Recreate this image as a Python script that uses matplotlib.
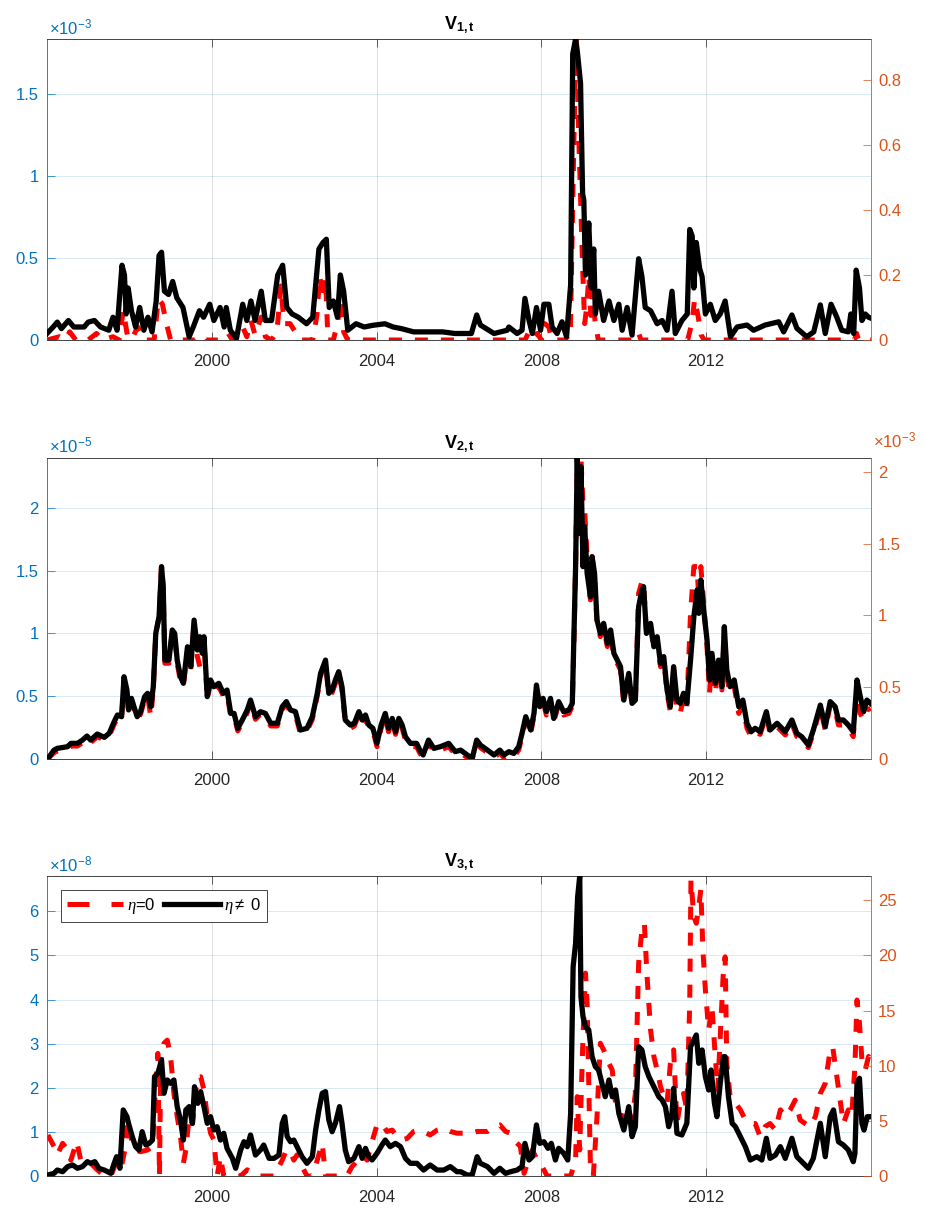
import matplotlib.pyplot as plt
import numpy as np
from matplotlib.lines import Line2D
from matplotlib.ticker import FuncFormatter

plt.rcParams['font.family'] = ['Liberation Sans', 'DejaVu Sans']
plt.rcParams['mathtext.fontset'] = 'custom'
plt.rcParams['mathtext.rm'] = 'Liberation Sans'
plt.rcParams['mathtext.it'] = 'Liberation Serif:italic'
plt.rcParams['mathtext.bf'] = 'Liberation Sans:bold'

BLUE = (0.0, 0.447, 0.741)
ORANGE = (0.85, 0.325, 0.098)
DARK = (0.15, 0.15, 0.15)

year_ticks = [2000, 2004, 2008, 2012]

# (decimal year, value) pairs
# red dashed = eta=0 (left axis), black = eta!=0 (right axis)

# V1: red in units of 1e-3, black in units of 1
v1_red = [(1996.0, 0.0), (1996.3, 0.02), (1996.45, 0.0), (1996.55, 0.05), (1996.7, 0.0), (1997.0, 0.0),
          (1997.2, 0.04), (1997.35, 0.0), (1997.6, 0.02), (1997.75, 0.0), (1997.85, 0.18), (1997.95, 0.03),
          (1998.05, 0.0), (1998.2, 0.08), (1998.35, 0.0), (1998.6, 0.0), (1998.7, 0.25), (1998.8, 0.22),
          (1998.9, 0.1), (1999.0, 0.0), (1999.6, 0.0), (1999.75, 0.03), (1999.85, 0.0), (2000.2, 0.0),
          (2000.4, 0.04), (2000.5, 0.0), (2000.75, 0.08), (2000.85, 0.02), (2000.95, 0.12), (2001.05, 0.03),
          (2001.2, 0.14), (2001.3, 0.02), (2001.45, 0.0), (2001.58, 0.05), (2001.68, 0.33), (2001.75, 0.1),
          (2001.9, 0.1), (2002.05, 0.04), (2002.15, 0.0), (2002.45, 0.0), (2002.55, 0.15), (2002.62, 0.39),
          (2002.7, 0.25), (2002.76, 0.38), (2002.82, 0.0), (2002.95, 0.0), (2003.05, 0.1), (2003.12, 0.25),
          (2003.2, 0.05), (2003.3, 0.0), (2007.6, 0.0), (2007.68, 0.04), (2007.78, 0.0), (2007.9, 0.04),
          (2008.0, 0.0), (2008.08, 0.1), (2008.18, 0.08), (2008.25, 0.0), (2008.7, 0.0), (2008.78, 1.1),
          (2008.84, 1.838), (2008.9, 1.3), (2008.95, 0.875), (2009.0, 0.45), (2009.05, 0.1), (2009.1, 0.2),
          (2009.15, 0.39), (2009.2, 0.15), (2009.25, 0.3), (2009.3, 0.12), (2009.38, 0.0), (2010.3, 0.0),
          (2010.36, 0.04), (2010.42, 0.0), (2011.55, 0.0), (2011.65, 0.1), (2011.72, 0.25), (2011.8, 0.15),
          (2011.88, 0.03), (2011.95, 0.0), (2015.6, 0.0), (2015.65, 0.04), (2015.7, 0.0), (2016.0, 0.0)]

v1_black = [(1996.0, 0.02), (1996.15, 0.04), (1996.25, 0.055), (1996.35, 0.035), (1996.52, 0.06), (1996.65, 0.04),
            (1996.9, 0.04), (1997.0, 0.055), (1997.15, 0.06), (1997.3, 0.04), (1997.5, 0.03), (1997.6, 0.07),
            (1997.7, 0.03), (1997.82, 0.23), (1997.88, 0.2), (1997.92, 0.08), (1997.97, 0.16), (1998.05, 0.09),
            (1998.15, 0.04), (1998.25, 0.1), (1998.35, 0.03), (1998.45, 0.07), (1998.55, 0.025), (1998.65, 0.12),
            (1998.72, 0.26), (1998.78, 0.27), (1998.85, 0.15), (1998.95, 0.14), (1999.05, 0.18), (1999.15, 0.13),
            (1999.3, 0.1), (1999.45, 0.01), (1999.55, 0.04), (1999.7, 0.09), (1999.8, 0.07), (1999.95, 0.11),
            (2000.05, 0.06), (2000.2, 0.1), (2000.3, 0.04), (2000.35, 0.1), (2000.45, 0.03), (2000.6, 0.005),
            (2000.75, 0.11), (2000.85, 0.06), (2000.95, 0.12), (2001.05, 0.06), (2001.2, 0.15), (2001.3, 0.06),
            (2001.45, 0.06), (2001.6, 0.2), (2001.72, 0.23), (2001.82, 0.1), (2001.95, 0.08), (2002.1, 0.07),
            (2002.3, 0.05), (2002.45, 0.07), (2002.6, 0.28), (2002.7, 0.3), (2002.78, 0.31), (2002.85, 0.1),
            (2002.95, 0.12), (2003.05, 0.07), (2003.12, 0.2), (2003.2, 0.15), (2003.3, 0.03), (2003.5, 0.05),
            (2003.7, 0.04), (2003.9, 0.045), (2004.2, 0.05), (2004.4, 0.04), (2004.6, 0.035), (2004.9, 0.025),
            (2005.2, 0.025), (2005.6, 0.025), (2005.9, 0.02), (2006.1, 0.02), (2006.3, 0.02), (2006.43, 0.077),
            (2006.52, 0.046), (2006.85, 0.02), (2007.17, 0.03), (2007.21, 0.04), (2007.41, 0.02), (2007.53, 0.03),
            (2007.6, 0.128), (2007.7, 0.06), (2007.78, 0.02), (2007.88, 0.1), (2007.98, 0.03), (2008.06, 0.11),
            (2008.18, 0.11), (2008.26, 0.04), (2008.38, 0.02), (2008.5, 0.056), (2008.61, 0.01), (2008.71, 0.17),
            (2008.76, 0.88), (2008.83, 0.926), (2008.87, 0.89), (2008.95, 0.79), (2009.0, 0.45), (2009.03, 0.43),
            (2009.07, 0.2), (2009.15, 0.36), (2009.21, 0.16), (2009.27, 0.28), (2009.31, 0.08), (2009.39, 0.15),
            (2009.51, 0.06), (2009.64, 0.12), (2009.76, 0.06), (2009.88, 0.11), (2009.96, 0.03), (2010.08, 0.1),
            (2010.2, 0.015), (2010.36, 0.25), (2010.44, 0.195), (2010.52, 0.1), (2010.65, 0.09), (2010.81, 0.05),
            (2010.93, 0.06), (2011.05, 0.03), (2011.17, 0.15), (2011.25, 0.02), (2011.41, 0.06), (2011.54, 0.08),
            (2011.6, 0.34), (2011.66, 0.32), (2011.7, 0.16), (2011.76, 0.3), (2011.84, 0.22), (2011.9, 0.195),
            (2011.98, 0.08), (2012.1, 0.11), (2012.22, 0.06), (2012.34, 0.08), (2012.46, 0.12), (2012.59, 0.01),
            (2012.75, 0.04), (2012.99, 0.046), (2013.15, 0.03), (2013.43, 0.046), (2013.76, 0.056), (2013.88, 0.025),
            (2014.08, 0.077), (2014.2, 0.036), (2014.44, 0.01), (2014.61, 0.025), (2014.77, 0.108), (2014.89, 0.02),
            (2015.03, 0.11), (2015.17, 0.07), (2015.29, 0.03), (2015.45, 0.025), (2015.51, 0.08), (2015.58, 0.02),
            (2015.64, 0.215), (2015.72, 0.16), (2015.78, 0.06), (2015.86, 0.08), (2015.94, 0.07), (2016.0, 0.067)]

# V2: red in units of 1e-5, black in units of 1e-3
v2_red = [(1996.02, 0.0), (1996.17, 0.048), (1996.25, 0.061), (1996.50, 0.074), (1996.58, 0.101), (1996.74, 0.101),
          (1996.86, 0.128), (1996.97, 0.16), (1997.06, 0.128), (1997.22, 0.176), (1997.39, 0.149), (1997.51, 0.181),
          (1997.63, 0.274), (1997.71, 0.327), (1997.81, 0.314), (1997.87, 0.633), (1997.94, 0.527), (1997.98, 0.367),
          (1998.05, 0.46), (1998.11, 0.394), (1998.19, 0.314), (1998.27, 0.354), (1998.37, 0.473), (1998.44, 0.5),
          (1998.52, 0.335), (1998.58, 0.553), (1998.64, 1.0), (1998.72, 1.133), (1998.78, 1.545), (1998.82, 1.372),
          (1998.86, 0.761), (1998.96, 0.761), (1999.04, 1.013), (1999.10, 0.979), (1999.16, 0.761), (1999.24, 0.614),
          (1999.31, 0.58), (1999.41, 0.867), (1999.49, 0.713), (1999.57, 1.085), (1999.65, 0.814), (1999.71, 0.734),
          (1999.77, 0.8), (1999.81, 0.947), (1999.89, 0.473), (1999.97, 0.606), (2000.05, 0.535), (2000.17, 0.574),
          (2000.28, 0.5), (2000.37, 0.521), (2000.46, 0.335), (2000.54, 0.34), (2000.63, 0.221), (2000.74, 0.287),
          (2000.86, 0.367), (2000.94, 0.447), (2001.06, 0.314), (2001.18, 0.354), (2001.30, 0.34), (2001.43, 0.261),
          (2001.59, 0.261), (2001.71, 0.394), (2001.81, 0.434), (2001.91, 0.367), (2002.03, 0.348), (2002.15, 0.202),
          (2002.31, 0.221), (2002.44, 0.314), (2002.56, 0.5), (2002.64, 0.66), (2002.76, 0.766), (2002.84, 0.5),
          (2002.92, 0.527), (2003.00, 0.601), (2003.08, 0.673), (2003.16, 0.553), (2003.24, 0.287), (2003.36, 0.242),
          (2003.46, 0.261), (2003.57, 0.354), (2003.65, 0.287), (2003.73, 0.327), (2003.81, 0.242), (2003.91, 0.221),
          (2004.01, 0.096), (2004.11, 0.242), (2004.21, 0.34), (2004.29, 0.215), (2004.38, 0.301), (2004.46, 0.194),
          (2004.54, 0.301), (2004.62, 0.242), (2004.70, 0.149), (2004.82, 0.096), (2004.97, 0.096), (2005.05, 0.043),
          (2005.13, 0.008), (2005.26, 0.128), (2005.39, 0.056), (2005.55, 0.069), (2005.75, 0.096), (2005.91, 0.035),
          (2006.04, 0.048), (2006.20, 0.008), (2006.32, 0.0), (2006.43, 0.128), (2006.52, 0.088), (2006.69, 0.048),
          (2006.85, 0.008), (2006.99, 0.048), (2007.09, 0.008), (2007.21, 0.029), (2007.33, 0.016), (2007.45, 0.069),
          (2007.53, 0.176), (2007.62, 0.309), (2007.74, 0.202), (2007.82, 0.34), (2007.88, 0.574), (2007.96, 0.394),
          (2008.04, 0.46), (2008.12, 0.348), (2008.22, 0.46), (2008.30, 0.295), (2008.42, 0.434), (2008.54, 0.348),
          (2008.67, 0.361), (2008.75, 0.42), (2008.79, 0.947), (2008.83, 1.532), (2008.87, 2.40), (2008.91, 2.011),
          (2008.96, 2.40), (2009.01, 2.032), (2009.05, 1.984), (2009.11, 1.612), (2009.19, 1.266), (2009.23, 1.612),
          (2009.29, 1.452), (2009.35, 1.08), (2009.43, 0.973), (2009.51, 1.053), (2009.60, 0.894), (2009.68, 1.0),
          (2009.76, 0.814), (2009.84, 0.761), (2009.92, 0.707), (2010.00, 0.441), (2010.12, 0.654), (2010.20, 0.428),
          (2010.28, 0.447), (2010.36, 1.319), (2010.44, 1.412), (2010.48, 1.412), (2010.55, 1.0), (2010.65, 1.053),
          (2010.73, 0.867), (2010.81, 0.947), (2010.89, 0.734), (2010.97, 0.787), (2011.05, 0.521), (2011.13, 0.375),
          (2011.21, 0.707), (2011.29, 0.375), (2011.37, 0.361), (2011.45, 0.495), (2011.53, 0.415), (2011.62, 1.16),
          (2011.70, 1.532), (2011.78, 1.532), (2011.82, 1.266), (2011.87, 1.532), (2011.94, 1.239), (2012.02, 0.894),
          (2012.08, 0.521), (2012.14, 0.814), (2012.22, 0.521), (2012.30, 0.761), (2012.38, 0.548), (2012.44, 1.027),
          (2012.50, 0.654), (2012.58, 0.521), (2012.68, 0.574), (2012.79, 0.361), (2012.89, 0.415), (2012.99, 0.242),
          (2013.09, 0.176), (2013.19, 0.215), (2013.31, 0.194), (2013.46, 0.348), (2013.55, 0.202), (2013.72, 0.255),
          (2013.84, 0.215), (2013.92, 0.189), (2014.08, 0.282), (2014.20, 0.176), (2014.32, 0.149), (2014.48, 0.088),
          (2014.60, 0.202), (2014.77, 0.402), (2014.89, 0.229), (2015.01, 0.428), (2015.13, 0.388), (2015.21, 0.269),
          (2015.33, 0.269), (2015.45, 0.242), (2015.57, 0.176), (2015.66, 0.601), (2015.74, 0.361), (2015.82, 0.309),
          (2015.90, 0.388), (2015.99, 0.402)]

v2_black = [(1996.02, 0.0), (1996.17, 0.06), (1996.25, 0.072), (1996.50, 0.084), (1996.58, 0.107), (1996.74, 0.107),
            (1996.86, 0.13), (1996.97, 0.158), (1997.06, 0.13), (1997.22, 0.172), (1997.39, 0.149), (1997.51, 0.177),
            (1997.63, 0.258), (1997.71, 0.305), (1997.81, 0.293), (1997.87, 0.572), (1997.94, 0.479), (1997.98, 0.34),
            (1998.05, 0.421), (1998.11, 0.363), (1998.19, 0.293), (1998.27, 0.328), (1998.37, 0.433), (1998.44, 0.456),
            (1998.52, 0.363), (1998.58, 0.502), (1998.64, 0.874), (1998.72, 0.99), (1998.78, 1.34), (1998.82, 1.2),
            (1998.86, 0.688), (1998.96, 0.688), (1999.04, 0.898), (1999.10, 0.874), (1999.16, 0.688), (1999.24, 0.572),
            (1999.31, 0.526), (1999.41, 0.781), (1999.49, 0.642), (1999.57, 0.967), (1999.65, 0.758), (1999.71, 0.851),
            (1999.77, 0.735), (1999.81, 0.851), (1999.89, 0.433), (1999.97, 0.549), (2000.05, 0.502), (2000.17, 0.526),
            (2000.28, 0.456), (2000.37, 0.479), (2000.46, 0.316), (2000.54, 0.316), (2000.63, 0.212), (2000.74, 0.27),
            (2000.86, 0.34), (2000.94, 0.409), (2001.06, 0.293), (2001.18, 0.328), (2001.30, 0.316), (2001.43, 0.247),
            (2001.59, 0.247), (2001.71, 0.363), (2001.81, 0.398), (2001.91, 0.34), (2002.03, 0.328), (2002.15, 0.2),
            (2002.31, 0.212), (2002.44, 0.293), (2002.56, 0.456), (2002.64, 0.595), (2002.76, 0.688), (2002.84, 0.456),
            (2002.92, 0.479), (2003.00, 0.549), (2003.08, 0.607), (2003.16, 0.502), (2003.24, 0.27), (2003.36, 0.235),
            (2003.46, 0.247), (2003.57, 0.328), (2003.65, 0.27), (2003.73, 0.305), (2003.81, 0.235), (2003.91, 0.212),
            (2004.01, 0.107), (2004.11, 0.235), (2004.21, 0.316), (2004.29, 0.212), (2004.38, 0.281), (2004.46, 0.188),
            (2004.54, 0.281), (2004.62, 0.235), (2004.70, 0.153), (2004.82, 0.107), (2004.97, 0.107), (2005.05, 0.06),
            (2005.13, 0.026), (2005.26, 0.13), (2005.39, 0.072), (2005.55, 0.084), (2005.75, 0.107), (2005.91, 0.049),
            (2006.04, 0.06), (2006.20, 0.026), (2006.32, 0.002), (2006.43, 0.13), (2006.52, 0.095), (2006.69, 0.06),
            (2006.85, 0.026), (2006.99, 0.06), (2007.09, 0.026), (2007.21, 0.049), (2007.33, 0.037), (2007.45, 0.084),
            (2007.53, 0.177), (2007.62, 0.293), (2007.74, 0.2), (2007.82, 0.316), (2007.88, 0.514), (2007.96, 0.363),
            (2008.04, 0.421), (2008.12, 0.328), (2008.22, 0.421), (2008.30, 0.281), (2008.42, 0.398), (2008.54, 0.328),
            (2008.67, 0.34), (2008.75, 0.386), (2008.79, 0.874), (2008.83, 1.34), (2008.87, 2.10), (2008.91, 1.572),
            (2008.96, 2.037), (2009.01, 1.34), (2009.05, 1.619), (2009.11, 1.293), (2009.19, 1.13), (2009.23, 1.409),
            (2009.29, 1.293), (2009.35, 0.967), (2009.43, 0.874), (2009.51, 0.944), (2009.60, 0.805), (2009.68, 0.898),
            (2009.76, 0.735), (2009.84, 0.688), (2009.92, 0.642), (2010.00, 0.409), (2010.12, 0.595), (2010.20, 0.386),
            (2010.28, 0.409), (2010.36, 1.06), (2010.44, 1.177), (2010.48, 1.2), (2010.55, 0.874), (2010.65, 0.944),
            (2010.73, 0.781), (2010.81, 0.851), (2010.89, 0.665), (2010.97, 0.712), (2011.05, 0.479), (2011.13, 0.363),
            (2011.21, 0.642), (2011.29, 0.409), (2011.37, 0.386), (2011.45, 0.456), (2011.53, 0.386), (2011.62, 0.688),
            (2011.70, 0.99), (2011.78, 1.177), (2011.82, 1.014), (2011.87, 1.247), (2011.94, 1.037), (2012.02, 0.828),
            (2012.08, 0.549), (2012.14, 0.735), (2012.22, 0.526), (2012.30, 0.688), (2012.38, 0.502), (2012.44, 0.921),
            (2012.50, 0.619), (2012.58, 0.502), (2012.68, 0.549), (2012.79, 0.363), (2012.89, 0.409), (2012.99, 0.247),
            (2013.09, 0.188), (2013.19, 0.212), (2013.31, 0.188), (2013.46, 0.328), (2013.55, 0.2), (2013.72, 0.247),
            (2013.84, 0.212), (2013.92, 0.188), (2014.08, 0.27), (2014.20, 0.177), (2014.32, 0.153), (2014.48, 0.095),
            (2014.60, 0.2), (2014.77, 0.374), (2014.89, 0.223), (2015.01, 0.398), (2015.13, 0.363), (2015.21, 0.27),
            (2015.33, 0.27), (2015.45, 0.235), (2015.57, 0.188), (2015.66, 0.549), (2015.74, 0.433), (2015.82, 0.328),
            (2015.90, 0.409), (2015.99, 0.386)]

# V3: red in units of 1e-8, black in units of 1
v3_red = [(1996.02, 0.93), (1996.17, 0.67), (1996.25, 0.48), (1996.38, 0.74), (1996.50, 0.59), (1996.58, 0.36),
          (1996.72, 0.78), (1996.82, 0.36), (1996.94, 0.36), (1997.06, 0.29), (1997.22, 0.14), (1997.39, 0.0),
          (1997.55, 0.0), (1997.67, 0.29), (1997.79, 0.14), (1997.89, 0.59), (1997.95, 1.27), (1998.03, 0.89),
          (1998.15, 0.59), (1998.27, 0.55), (1998.44, 0.59), (1998.56, 0.67), (1998.64, 2.1), (1998.69, 2.78),
          (1998.73, 0.0), (1998.76, 2.55), (1998.84, 3.01), (1998.92, 3.08), (1999.00, 2.71), (1999.08, 1.87),
          (1999.16, 1.35), (1999.24, 0.89), (1999.31, 0.29), (1999.37, 0.59), (1999.45, 1.35), (1999.53, 1.19),
          (1999.65, 2.25), (1999.73, 2.25), (1999.81, 1.95), (1999.89, 1.35), (1999.97, 0.97), (2000.05, 0.82),
          (2000.13, 0.0), (2000.21, 0.44), (2000.29, 0.0), (2000.46, 0.0), (2000.70, 0.0), (2000.86, 0.14),
          (2001.02, 0.06), (2001.18, 0.0), (2001.51, 0.0), (2001.59, 0.14), (2001.71, 0.36), (2001.81, 0.59),
          (2001.91, 0.55), (2001.99, 0.36), (2002.07, 0.48), (2002.15, 0.29), (2002.31, 0.0), (2002.44, 0.0),
          (2002.56, 0.36), (2002.68, 0.74), (2002.76, 0.0), (2003.28, 0.0), (2003.40, 0.21), (2003.52, 0.33),
          (2003.65, 0.48), (2003.77, 0.36), (2003.89, 0.78), (2004.01, 1.16), (2004.13, 1.19), (2004.25, 1.01),
          (2004.38, 1.04), (2004.50, 0.89), (2004.62, 0.82), (2004.74, 0.85), (2004.90, 1.01), (2005.02, 1.04),
          (2005.14, 1.01), (2005.30, 0.93), (2005.47, 1.04), (2005.63, 1.08), (2005.79, 1.01), (2005.95, 0.97),
          (2006.04, 0.97), (2006.28, 0.97), (2006.44, 1.01), (2006.69, 1.01), (2006.85, 1.12), (2006.99, 1.16),
          (2007.13, 1.01), (2007.25, 0.97), (2007.37, 0.78), (2007.49, 0.67), (2007.58, 0.06), (2007.66, 0.29),
          (2007.78, 0.59), (2007.90, 0.36), (2008.02, 0.21), (2008.14, 0.0), (2008.46, 0.0), (2008.71, 0.0),
          (2008.83, 0.36), (2008.87, 1.8), (2008.93, 0.59), (2008.96, 1.65), (2009.01, 3.16), (2009.07, 4.6),
          (2009.11, 3.92), (2009.19, 0.21), (2009.26, 0.0), (2009.35, 1.35), (2009.43, 3.01), (2009.51, 2.86),
          (2009.60, 2.63), (2009.72, 2.4), (2009.80, 1.65), (2009.88, 1.57), (2009.96, 1.27), (2010.08, 1.57),
          (2010.20, 1.27), (2010.28, 1.87), (2010.36, 4.82), (2010.44, 5.58), (2010.50, 5.73), (2010.56, 4.6),
          (2010.65, 3.31), (2010.73, 2.71), (2010.81, 2.4), (2010.89, 2.03), (2010.97, 1.8), (2011.05, 1.65),
          (2011.13, 2.55), (2011.21, 2.86), (2011.29, 1.19), (2011.37, 1.65), (2011.45, 1.87), (2011.53, 1.5),
          (2011.60, 3.92), (2011.63, 6.71), (2011.70, 5.88), (2011.76, 5.73), (2011.82, 6.11), (2011.87, 6.49),
          (2011.92, 5.12), (2011.98, 4.22), (2012.06, 3.31), (2012.14, 3.84), (2012.22, 2.71), (2012.28, 1.95),
          (2012.34, 3.16), (2012.41, 4.52), (2012.46, 4.97), (2012.50, 2.55), (2012.58, 1.8), (2012.71, 1.65),
          (2012.83, 1.5), (2012.95, 1.27), (2013.07, 1.19), (2013.19, 1.19), (2013.31, 0.89), (2013.43, 1.12),
          (2013.55, 1.19), (2013.68, 1.04), (2013.80, 1.5), (2013.92, 1.35), (2014.04, 1.5), (2014.16, 1.72),
          (2014.28, 1.27), (2014.40, 1.19), (2014.52, 1.12), (2014.65, 1.35), (2014.77, 1.87), (2014.89, 2.1),
          (2015.01, 2.86), (2015.07, 2.93), (2015.15, 2.4), (2015.24, 1.8), (2015.33, 1.19), (2015.45, 1.5),
          (2015.53, 1.35), (2015.61, 2.48), (2015.66, 3.99), (2015.72, 3.46), (2015.78, 2.63), (2015.86, 2.4),
          (2015.94, 2.71), (2015.99, 2.55)]

v3_black = [(1996.02, 0.09), (1996.17, 0.24), (1996.25, 0.54), (1996.38, 0.39), (1996.50, 0.85), (1996.62, 1.0),
            (1996.74, 0.7), (1996.86, 0.85), (1996.98, 1.3), (1997.06, 1.15), (1997.16, 1.3), (1997.26, 0.7),
            (1997.39, 0.54), (1997.55, 0.24), (1997.63, 1.15), (1997.69, 1.75), (1997.77, 0.7), (1997.85, 5.99),
            (1997.94, 5.38), (1997.99, 4.63), (1998.07, 3.57), (1998.15, 2.66), (1998.23, 2.36), (1998.31, 4.02),
            (1998.40, 2.81), (1998.48, 2.96), (1998.56, 3.26), (1998.61, 9.01), (1998.69, 9.31), (1998.78, 10.52),
            (1998.84, 7.5), (1998.92, 8.71), (1999.00, 8.4), (1999.08, 8.71), (1999.16, 6.29), (1999.24, 5.08),
            (1999.31, 3.26), (1999.37, 5.99), (1999.45, 6.29), (1999.53, 4.78), (1999.58, 8.1), (1999.66, 6.59),
            (1999.73, 7.65), (1999.81, 6.29), (1999.89, 4.78), (1999.97, 5.38), (2000.05, 4.17), (2000.13, 4.47),
            (2000.21, 3.26), (2000.29, 3.87), (2000.37, 2.51), (2000.50, 1.6), (2000.58, 0.7), (2000.70, 2.36),
            (2000.78, 3.11), (2000.86, 2.66), (2000.94, 3.72), (2001.06, 1.9), (2001.18, 2.36), (2001.26, 2.81),
            (2001.39, 1.6), (2001.51, 1.6), (2001.63, 1.9), (2001.71, 4.78), (2001.77, 5.38), (2001.83, 3.57),
            (2001.91, 3.11), (2001.99, 3.26), (2002.07, 2.66), (2002.19, 1.75), (2002.31, 1.15), (2002.44, 1.75),
            (2002.52, 4.17), (2002.60, 5.99), (2002.68, 7.5), (2002.76, 7.65), (2002.84, 5.08), (2002.92, 4.02),
            (2003.00, 4.78), (2003.10, 6.29), (2003.16, 4.78), (2003.24, 2.36), (2003.32, 1.3), (2003.45, 1.6),
            (2003.57, 2.66), (2003.65, 1.6), (2003.73, 2.51), (2003.81, 1.75), (2003.89, 1.45), (2004.01, 2.06),
            (2004.13, 2.81), (2004.21, 3.26), (2004.33, 2.66), (2004.46, 2.96), (2004.58, 2.66), (2004.70, 1.6),
            (2004.82, 1.15), (2004.98, 1.15), (2005.14, 0.54), (2005.30, 1.0), (2005.47, 0.54), (2005.63, 0.54),
            (2005.79, 0.85), (2005.95, 0.39), (2006.04, 0.39), (2006.20, 0.09), (2006.32, 0.09), (2006.44, 1.75),
            (2006.52, 1.15), (2006.69, 0.85), (2006.85, 0.24), (2006.99, 0.7), (2007.13, 0.24), (2007.25, 0.39),
            (2007.41, 0.54), (2007.53, 0.85), (2007.60, 2.96), (2007.70, 1.45), (2007.78, 1.75), (2007.88, 4.63),
            (2007.96, 2.96), (2008.06, 3.11), (2008.16, 2.51), (2008.24, 2.96), (2008.34, 1.45), (2008.42, 2.51),
            (2008.54, 2.06), (2008.64, 1.45), (2008.71, 5.68), (2008.77, 18.98), (2008.83, 21.1), (2008.88, 25.33),
            (2008.93, 27.18), (2008.96, 16.26), (2009.01, 14.45), (2009.07, 13.54), (2009.15, 13.24), (2009.23, 10.82),
            (2009.31, 9.92), (2009.39, 9.61), (2009.47, 8.4), (2009.55, 7.19), (2009.64, 8.71), (2009.72, 7.19),
            (2009.80, 7.8), (2009.88, 5.68), (2010.00, 4.17), (2010.12, 6.29), (2010.20, 3.57), (2010.28, 4.47),
            (2010.36, 11.73), (2010.44, 11.43), (2010.52, 9.92), (2010.61, 9.01), (2010.69, 8.4), (2010.77, 7.8),
            (2010.85, 7.19), (2010.93, 6.89), (2011.01, 6.29), (2011.09, 4.47), (2011.17, 5.68), (2011.21, 7.95),
            (2011.29, 3.87), (2011.41, 3.72), (2011.53, 4.78), (2011.62, 11.73), (2011.70, 12.33), (2011.76, 12.79),
            (2011.82, 10.22), (2011.90, 11.43), (2011.98, 9.01), (2012.06, 7.8), (2012.12, 9.61), (2012.20, 6.59),
            (2012.26, 5.38), (2012.34, 8.4), (2012.42, 10.82), (2012.46, 10.82), (2012.54, 7.19), (2012.63, 4.78),
            (2012.71, 4.47), (2012.83, 3.57), (2012.95, 2.66), (2013.07, 1.45), (2013.23, 1.75), (2013.35, 1.45),
            (2013.46, 3.42), (2013.55, 1.6), (2013.68, 1.9), (2013.80, 2.66), (2013.92, 1.6), (2014.08, 3.42),
            (2014.20, 1.75), (2014.36, 1.15), (2014.48, 0.7), (2014.60, 1.6), (2014.77, 4.78), (2014.89, 1.75),
            (2015.01, 5.38), (2015.09, 5.99), (2015.21, 3.11), (2015.33, 2.81), (2015.45, 2.36), (2015.57, 1.3),
            (2015.61, 2.06), (2015.66, 8.4), (2015.72, 8.86), (2015.78, 4.78), (2015.83, 4.17), (2015.91, 5.38),
            (2015.99, 5.38)]

titles = [r'V$_{\mathbf{1,t}}$', r'V$_{\mathbf{2,t}}$', r'V$_{\mathbf{3,t}}$']
red_series = [v1_red, v2_red, v3_red]
black_series = [v1_black, v2_black, v3_black]
left_exp = [-3, -5, -8]
right_exp = [0, -3, 0]
left_top = [1.838, 2.40, 6.795]
right_top = [0.926, 2.10, 27.18]
left_step = [0.5, 0.5, 1]
right_step = [0.2, 0.5, 5]

W, H = 925, 1209
rows_px = [(39, 340), (457.7, 758.7), (876.3, 1176)]

fig = plt.figure(figsize=(W / 100, H / 100), dpi=100)


def sci_text(e):
    return r'$\times\mathregular{10^{%d}}$' % e


for i in range(3):
    top_px, bot_px = rows_px[i]
    ax = fig.add_axes([47 / W, 1 - bot_px / H, 824 / W, (bot_px - top_px) / H])
    ax2 = ax.twinx()
    ls, rs = 10.0 ** left_exp[i], 10.0 ** right_exp[i]

    t, v = zip(*red_series[i])
    ax.plot(t, np.array(v) * ls, color=(1, 0, 0), lw=3.6, ls=(0, (2.6, 2.6)))
    t, v = zip(*black_series[i])
    black_line, = ax2.plot(t, np.array(v) * rs, color='k', lw=3.8)

    ax.set_xlim(1996.0, 2016.0)
    ax.set_ylim(0, left_top[i] * ls)
    ax2.set_ylim(0, right_top[i] * rs)
    ax.set_xticks(year_ticks)
    ax.set_xticklabels([str(y) for y in year_ticks])
    ax.set_yticks(np.arange(0, left_top[i], left_step[i]) * ls)
    ax2.set_yticks(np.arange(0, right_top[i], right_step[i]) * rs)
    ax.yaxis.set_major_formatter(FuncFormatter(lambda y, pos, s=ls: f'{y / s:g}'))
    ax2.yaxis.set_major_formatter(FuncFormatter(lambda y, pos, s=rs: f'{y / s:g}'))

    ax.tick_params(axis='x', direction='in', top=True, length=5.8, width=0.5,
                   colors=DARK, labelsize=12, pad=10)
    ax.tick_params(axis='y', direction='in', length=5.8, width=0.5,
                   colors=BLUE, labelsize=12, pad=6)
    ax2.tick_params(axis='y', direction='in', length=5.8, width=0.5,
                    colors=ORANGE, labelsize=12, pad=5)

    ax.grid(axis='x', color=DARK, alpha=0.15, lw=0.7)
    ax.grid(axis='y', color=BLUE, alpha=0.15, lw=0.7)

    for s in ['top', 'bottom']:
        ax.spines[s].set_color(DARK)
        ax.spines[s].set_linewidth(0.6)
        ax2.spines[s].set_visible(False)
    ax.spines['left'].set_color(BLUE)
    ax.spines['left'].set_linewidth(0.6)
    ax.spines['right'].set_visible(False)
    ax2.spines['left'].set_visible(False)
    ax2.spines['right'].set_color(ORANGE)
    ax2.spines['right'].set_linewidth(0.6)

    ax.set_title(titles[i], fontsize=13, fontweight='bold', pad=7)

    h_ax = bot_px - top_px
    if left_exp[i] != 0:
        ax.text(0.002, 1 + 5 / h_ax, sci_text(left_exp[i]), transform=ax.transAxes,
                color=BLUE, fontsize=12, ha='left', va='baseline')
    if right_exp[i] != 0:
        ax2.text(1 + 2 / 824, 1 + 10 / h_ax, sci_text(right_exp[i]), transform=ax2.transAxes,
                 color=ORANGE, fontsize=12, ha='left', va='baseline')

    if i == 2:
        # legend sample uses the full-length dash as in the original key
        red_key = Line2D([], [], color=(1, 0, 0), lw=3.6, ls=(0, (4.4, 4.4)))
        leg = ax2.legend([red_key, black_line], [r'$\eta$=0', r'$\eta\neq$ 0'],
                         loc='upper left', bbox_to_anchor=(14 / 824, 1 - 14 / h_ax),
                         borderaxespad=0, ncol=2, handlelength=3.4, handletextpad=0.2,
                         columnspacing=0.5, borderpad=0.35, fancybox=False,
                         edgecolor=DARK, framealpha=1, fontsize=12)
        leg.get_frame().set_linewidth(0.6)

fig.savefig('out.png', dpi=100)
